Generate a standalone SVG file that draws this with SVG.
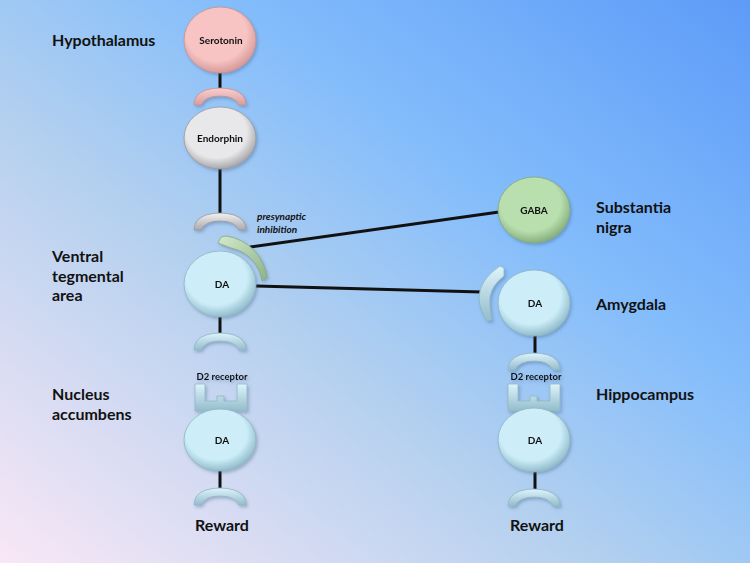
<svg xmlns="http://www.w3.org/2000/svg" width="750" height="563" viewBox="0 0 750 563">
<defs>
<linearGradient id="bg" x1="0" y1="1" x2="1" y2="0">
<stop offset="0" stop-color="#f9e7f6"/>
<stop offset="0.4" stop-color="#b3d0ef"/>
<stop offset="0.65" stop-color="#84bdfb"/>
<stop offset="1" stop-color="#5d9bf8"/>
</linearGradient>
<radialGradient id="gPink" cx="0.45" cy="0.4" r="0.6"><stop offset="0.7" stop-color="#f7c3c3"/><stop offset="1" stop-color="#d79a9a"/></radialGradient>
<radialGradient id="gGray" cx="0.45" cy="0.4" r="0.6"><stop offset="0.7" stop-color="#e8e8ea"/><stop offset="1" stop-color="#a8a8ac"/></radialGradient>
<radialGradient id="gGreen" cx="0.45" cy="0.4" r="0.6"><stop offset="0.7" stop-color="#badfae"/><stop offset="1" stop-color="#87b07f"/></radialGradient>
<radialGradient id="gBlue" cx="0.45" cy="0.4" r="0.6"><stop offset="0.7" stop-color="#cdeef9"/><stop offset="1" stop-color="#92bccb"/></radialGradient>
<linearGradient id="aPink" x1="0" y1="0" x2="0" y2="1"><stop offset="0" stop-color="#f9d0d0"/><stop offset="1" stop-color="#d99c9c"/></linearGradient>
<linearGradient id="aGray" x1="0" y1="0" x2="0" y2="1"><stop offset="0" stop-color="#f2f2f2"/><stop offset="1" stop-color="#a9a9ad"/></linearGradient>
<linearGradient id="aBlue" x1="0" y1="0" x2="0" y2="1"><stop offset="0" stop-color="#def4fb"/><stop offset="1" stop-color="#93bccb"/></linearGradient>
<linearGradient id="aGreen" x1="0" y1="0" x2="1" y2="1"><stop offset="0" stop-color="#d3eacb"/><stop offset="1" stop-color="#8db287"/></linearGradient>
<filter id="sh" x="-20%" y="-20%" width="150%" height="150%"><feDropShadow dx="1.5" dy="2" stdDeviation="1.5" flood-color="#3a5a80" flood-opacity="0.35"/></filter>
<path id="arch" d="M-26 17 Q-26 6 -14 2 Q0 -2 14 2 Q26 6 26 17 H19 Q15 8 0 8 Q-15 8 -19 17 Z"/>
<path id="d2" d="M-26 0 H-16 V17 H-4 V12 H3 V17 H16 V0 H26 V27 H-26 Z"/>
</defs>
<style>
.lbl{font-family:Lato,"Open Sans","Liberation Sans",sans-serif;font-weight:bold;font-size:16px;fill:#111}
.nt{font-family:Lato,"Open Sans","Liberation Sans",sans-serif;font-weight:bold;font-size:10px;fill:#111;text-anchor:middle}
.d2t{font-family:Lato,"Open Sans","Liberation Sans",sans-serif;font-weight:bold;font-size:9.5px;fill:#111;text-anchor:middle}
.it{font-family:Lato,"Open Sans","Liberation Sans",sans-serif;font-weight:bold;font-style:italic;font-size:10px;fill:#111}
.rw{font-family:Lato,"Open Sans","Liberation Sans",sans-serif;font-weight:bold;font-size:16px;fill:#111;text-anchor:middle}
.ln{stroke:#111;stroke-width:3;fill:none}
.ab{fill:url(#aBlue);stroke:#8fb6c4;stroke-width:0.8}
</style>
<rect width="750" height="563" fill="url(#bg)"/>

<g id="connectors">
<line class="ln" x1="220" y1="72" x2="220" y2="90"/>
<line class="ln" x1="220" y1="168" x2="220" y2="215"/>
<line class="ln" x1="220" y1="316" x2="220" y2="335"/>
<line class="ln" x1="220" y1="471" x2="220" y2="490"/>
<line class="ln" x1="535" y1="335" x2="535" y2="355"/>
<line class="ln" x1="535" y1="471" x2="535" y2="492"/>
<line class="ln" x1="250" y1="247" x2="499" y2="212"/>
<line class="ln" x1="256" y1="286" x2="482" y2="292"/>
</g>

<g id="labels">
<text class="lbl" x="52" y="46">Hypothalamus</text>
<text class="lbl" x="52" y="262">Ventral</text>
<text class="lbl" x="52" y="282">tegmental</text>
<text class="lbl" x="52" y="301">area</text>
<text class="lbl" x="52" y="400">Nucleus</text>
<text class="lbl" x="52" y="420">accumbens</text>
<text class="lbl" x="596" y="213">Substantia</text>
<text class="lbl" x="596" y="233">nigra</text>
<text class="lbl" x="596" y="310">Amygdala</text>
<text class="lbl" x="596" y="400">Hippocampus</text>
<text class="it" x="257" y="220">presynaptic</text>
<text class="it" x="257" y="233">inhibition</text>
</g>

<g id="serotonin" filter="url(#sh)">
<ellipse cx="220" cy="40" rx="36" ry="33" fill="url(#gPink)" stroke="#c99292" stroke-width="0.8"/>
<text class="nt" x="221" y="44">Serotonin</text>
</g>
<g id="serotonin-receptor" filter="url(#sh)">
<use href="#arch" x="220" y="88" fill="url(#aPink)" stroke="#c99292" stroke-width="0.8"/>
</g>
<g id="endorphin" filter="url(#sh)">
<ellipse cx="220" cy="138" rx="36" ry="31" fill="url(#gGray)" stroke="#9a9a9e" stroke-width="0.8"/>
<text class="nt" x="220" y="142">Endorphin</text>
</g>
<g id="endorphin-receptor" filter="url(#sh)">
<use href="#arch" x="220" y="213" fill="url(#aGray)" stroke="#9a9a9e" stroke-width="0.8"/>
</g>
<g id="vta-da" filter="url(#sh)">
<ellipse cx="220" cy="284" rx="36" ry="33" fill="url(#gBlue)" stroke="#8fb6c4" stroke-width="0.8"/>
<text class="nt" x="222" y="288">DA</text>
</g>
<g id="gaba-receptor" filter="url(#sh)">
<path d="M226 236 A48 48 0 0 1 267 277 L262 281 A39 39 0 0 0 231 248 L218 243 L221 237 Z" fill="url(#aGreen)" stroke="#85a87f" stroke-width="0.8"/>
</g>
<g id="vta-output" filter="url(#sh)">
<use href="#arch" class="ab" x="220" y="333"/>
</g>
<g id="na-receptor" filter="url(#sh)">
<text class="d2t" x="222" y="380">D2 receptor</text>
<use href="#d2" class="ab" x="221" y="384"/>
</g>
<g id="na-da" filter="url(#sh)">
<ellipse cx="220" cy="440" rx="36" ry="31" fill="url(#gBlue)" stroke="#8fb6c4" stroke-width="0.8"/>
<text class="nt" x="222" y="444">DA</text>
</g>
<g id="na-output" filter="url(#sh)">
<use href="#arch" class="ab" x="220" y="488"/>
</g>
<text class="rw" x="222" y="531">Reward</text>

<g id="gaba" filter="url(#sh)">
<ellipse cx="534" cy="210" rx="36" ry="33" fill="url(#gGreen)" stroke="#85a87f" stroke-width="0.8"/>
<text class="nt" x="534" y="214">GABA</text>
</g>
<g id="amygdala-receptor" filter="url(#sh)">
<path d="M500 266 Q479 280 479 298 Q480 311 487 321 L492 320 Q489 308 490 297 Q492 285 504 276 L504 268 Z" class="ab"/>
</g>
<g id="amygdala-da" filter="url(#sh)">
<ellipse cx="534" cy="303" rx="36" ry="33" fill="url(#gBlue)" stroke="#8fb6c4" stroke-width="0.8"/>
<text class="nt" x="535" y="307">DA</text>
</g>
<g id="amygdala-output" filter="url(#sh)">
<use href="#arch" class="ab" x="534" y="353"/>
</g>
<g id="hippo-receptor" filter="url(#sh)">
<text class="d2t" x="536" y="380">D2 receptor</text>
<use href="#d2" class="ab" x="534" y="384"/>
</g>
<g id="hippo-da" filter="url(#sh)">
<ellipse cx="534" cy="440" rx="36" ry="32" fill="url(#gBlue)" stroke="#8fb6c4" stroke-width="0.8"/>
<text class="nt" x="535" y="444">DA</text>
</g>
<g id="hippo-output" filter="url(#sh)">
<use href="#arch" class="ab" x="534" y="489"/>
</g>
<text class="rw" x="537" y="531">Reward</text>
</svg>
